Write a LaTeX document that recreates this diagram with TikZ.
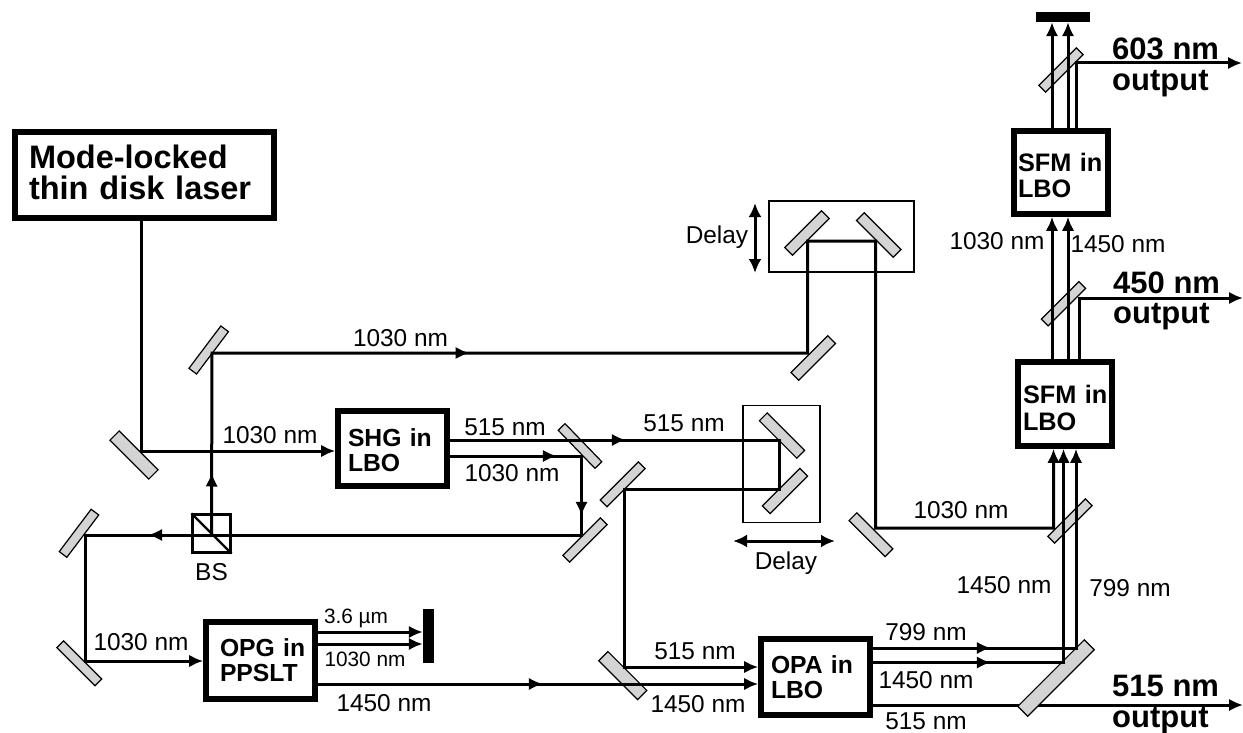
\documentclass[tikz,border=0pt]{standalone}
\usepackage{fontspec}
\setmainfont{Liberation Sans}
\usetikzlibrary{arrows.meta,decorations.markings}
\newcommand{\fsLabel}{\fontsize{24.4}{25}\selectfont}
\newcommand{\fsSmall}{\fontsize{20.8}{22}\selectfont}
\newcommand{\fsBox}{\fontsize{24.7}{25}\selectfont\bfseries}
\newcommand{\fsSfm}{\fontsize{25.3}{26.5}\selectfont\bfseries}
\newcommand{\fsBig}{\fontsize{31}{32}\selectfont\bfseries}
\newcommand{\pushdown}[1]{\rule{0pt}{#1}}
\tikzset{
  x=1pt,y=-1pt,
  mirr/.style n args={3}{draw=black,line width=1.2pt,fill=mirrgray,rectangle,inner sep=0pt,rotate=#1,minimum width=#2,minimum height=#3},
  cryst/.style={draw=black,fill=white,line width=5.6pt,rectangle,outer sep=auto,inner sep=0pt,font=\fsBox,align=left},
  frame/.style={draw=black,line width=1.8pt,rectangle,inner sep=0pt},
  dump/.style={fill=black,rectangle,inner sep=0pt},
  beam/.style={line width=3pt,line join=miter},
  tipped/.style={-{Latex[length=14pt,width=12.5pt]}},
  ar/.style={postaction={decorate,decoration={markings,mark=at position #1 with {\arrow{Latex[length=14pt,width=12.5pt]}}}}},
  lab/.style={font=\fsLabel,inner sep=0pt},
  sml/.style={font=\fsSmall,inner sep=0pt},
  big/.style={font=\fsBig,inner sep=0pt,anchor=base west},
}
\definecolor{mirrgray}{gray}{0.83}
\begin{document}
\begin{tikzpicture}
\useasboundingbox (0,0) rectangle (1243,733);
% crystals and laser
\node[cryst,minimum width=259pt,minimum height=86pt,text width=231pt,font=\fontsize{32.5}{31.5}\selectfont\bfseries] (laser) at (144.5,175) {Mode-locked\\thin disk laser\rule[-6pt]{0pt}{1pt}};
\node[cryst,minimum width=109pt,minimum height=75pt,text width=89pt] (shg) at (392.5,448.5) {\pushdown{22pt}SHG in\\LBO};
\node[cryst,minimum width=109pt,minimum height=77pt,text width=81pt] (opg) at (260.5,660.5) {OPG~in\\PPSLT};
\node[cryst,minimum width=109pt,minimum height=76pt,text width=89pt] (opa) at (815.5,677) {OPA in\\LBO};
\node[cryst,minimum width=94pt,minimum height=84pt,text width=84pt,font=\fsSfm] (sfmA) at (1065,404) {\pushdown{26pt}SFM~in\\LBO};
\node[cryst,minimum width=94pt,minimum height=83pt,text width=86pt,font=\fsSfm] (sfmB) at (1061,172.5) {\pushdown{24pt}SFM~in\\LBO};
% delay frames
\node[frame,minimum width=145pt,minimum height=71pt] (delayU) at (841.5,236.5) {};
\node[frame,minimum width=77pt,minimum height=117pt] (delayL) at (781.5,464) {};
% beam splitter
\node[draw=black,line width=2.2pt,rectangle,inner sep=0pt,minimum size=38pt] (bs) at (211.5,533.5) {};
\draw[line width=2.2pt] (bs.north west) -- (bs.south east);
% dumps
\node[dump,minimum width=54pt,minimum height=10pt] (dumpT) at (1063,17) {};
\node[dump,minimum width=11pt,minimum height=54pt] (dumpO) at (428.5,636) {};
% beam junction coordinates
\coordinate (jLaser) at (141,451);
\coordinate (jBSup) at (212,353);
\coordinate (jA) at (807.5,353);
\coordinate (jB) at (807.5,241);
\coordinate (jC) at (875.5,241);
\coordinate (jD) at (875.5,528);
\coordinate (jE) at (1053.5,528);
\coordinate (jSplitR) at (581.5,456);
\coordinate (jSplitD) at (581.5,535);
\coordinate (jLeftU) at (85,535);
\coordinate (jLeftD) at (85,661);
\coordinate (jDL1) at (779,440);
\coordinate (jDL2) at (779,489);
\coordinate (jDL3) at (624,489);
\coordinate (jDL4) at (624,667);
\coordinate (j1450) at (1063.5,662.5);
\coordinate (j799) at (1076,648);
\coordinate (jOut515) at (1243,705);
\coordinate (jOut450a) at (1079,298);
\coordinate (jOut450b) at (1243,298);
\coordinate (jOut603a) at (1076,63);
\coordinate (jOut603b) at (1242,63);
% 515 output passes behind its mirror
\draw[beam,tipped] (opa.east |- jOut515) -- (jOut515);
% mirrors
\node[mirr={-45}{55pt}{13pt}] (m1) at (134,455) {};
\node[mirr={53}{53pt}{9.5pt}] (m2) at (208.7,350) {};
\node[mirr={45}{52pt}{11pt}] (m3) at (813.3,358) {};
\node[mirr={-45}{51pt}{11pt}] (m4) at (871,534.7) {};
\node[mirr={45}{52pt}{11pt}] (m5) at (807,233) {};
\node[mirr={-45}{52pt}{11pt}] (m6) at (878.7,235) {};
\node[mirr={45}{53pt}{9.5pt}] (m7) at (1070,521) {};
\node[mirr={45}{53pt}{9.5pt}] (m8) at (1063.5,303.7) {};
\node[mirr={45}{53pt}{9.5pt}] (m9) at (1061,70) {};
\node[mirr={45}{94pt}{14pt}] (m10) at (1056,678) {};
\node[mirr={-45}{53pt}{11pt}] (m11) at (782,435.6) {};
\node[mirr={45}{53pt}{11pt}] (m12) at (785,491) {};
\node[mirr={-46}{53pt}{9.5pt}] (m13) at (580,446) {};
\node[mirr={45}{54pt}{9.5pt}] (m14) at (622.7,484.3) {};
\node[mirr={45}{53pt}{9.5pt}] (m15) at (585,540) {};
\node[mirr={53}{53pt}{9.5pt}] (m16) at (79,533.3) {};
\node[mirr={-45}{54pt}{9.5pt}] (m17) at (79.3,663.3) {};
\node[mirr={-45}{55pt}{13pt}] (m18) at (622.8,675.6) {};
% beams
\draw[beam,tipped] (laser.south -| jLaser) -- (jLaser) -- (shg.west |- jLaser);
\draw[beam,tipped,ar=61pt,ar=438pt] (bs.center) -- (jBSup) -- (jA) -- (jB) -- (jC) -- (jD) -- (jE) -- (sfmA.south -| jE);
\draw[beam,tipped,ar=107pt,ar=191.5pt,ar=644pt] (shg.east |- jSplitR) -- (jSplitR) -- (jSplitD) -- (jLeftU) -- (jLeftD) -- (opg.west |- jLeftD);
\draw[beam,tipped,ar=176pt] (shg.east |- jDL1) -- (jDL1) -- (jDL2) -- (jDL3) -- (jDL4) -- (opa.west |- jDL4);
\path (0,632) coordinate (y632) (0,644) coordinate (y644) (0,684) coordinate (y684);
\draw[beam,tipped] (opg.east |- y632) -- (dumpO.west |- y632);
\draw[beam,tipped] (opg.east |- y644) -- (dumpO.west |- y644);
\draw[beam,tipped,ar=225pt] (opg.east |- y684) -- (opa.west |- y684);
\draw[beam,tipped,ar=118pt] (opa.east |- j1450) -- (j1450) -- (sfmA.south -| j1450);
\draw[beam,tipped,ar=118pt] (opa.east |- j799) -- (j799) -- (sfmA.south -| j799);
\path (1052,0) coordinate (x1052) (1068,0) coordinate (x1068);
\draw[beam,tipped] (sfmA.north -| x1052) -- (sfmB.south -| x1052);
\draw[beam,tipped] (sfmA.north -| x1068) -- (sfmB.south -| x1068);
\draw[beam,tipped] (sfmA.north -| jOut450a) -- (jOut450a) -- (jOut450b);
\draw[beam,tipped] (sfmB.north -| x1052) -- (dumpT.south -| x1052);
\draw[beam,tipped] (sfmB.north -| x1068) -- (dumpT.south -| x1068);
\draw[beam,tipped] (sfmB.north -| jOut603a) -- (jOut603a) -- (jOut603b);
% delay arrows
\coordinate (dU1) at (755,203); \coordinate (dU2) at (755,273);
\coordinate (dL1) at (733,541); \coordinate (dL2) at (835,541);
\draw[beam,{Latex[length=14pt,width=13pt]}-{Latex[length=14pt,width=13pt]}] (dU1) -- (dU2);
\draw[beam,{Latex[length=14pt,width=13pt]}-{Latex[length=14pt,width=13pt]}] (dL1) -- (dL2);
% labels
\node[lab] (t1) at (270,435) {1030 nm};
\node[lab] (t2) at (400.5,338) {1030 nm};
\node[lab] (t3) at (505,427) {515 nm};
\node[lab] (t4) at (512,473) {1030 nm};
\node[lab] (t5) at (684,423) {515 nm};
\node[lab] (t6) at (717,237) {Delay};
\node[lab] (t7) at (786,563) {Delay};
\node[lab] (t8) at (211.5,572) {BS};
\node[lab] (t9) at (141,642) {1030 nm};
\node[sml] (t10) at (356,618) {3.6 µm};
\node[sml] (t11) at (365,659) {1030 nm};
\node[lab] (t12) at (384,703) {1450 nm};
\node[lab] (t13) at (695,651) {515 nm};
\node[lab] (t14) at (698,704) {1450 nm};
\node[lab] (t15) at (926,632) {799 nm};
\node[lab] (t16) at (926,680) {1450 nm};
\node[lab] (t17) at (926,721) {515 nm};
\node[lab] (t18) at (1004,585) {1450 nm};
\node[lab] (t19) at (1130,588) {799 nm};
\node[lab] (t20) at (961,510) {1030 nm};
\node[lab] (t21) at (997,241) {1030 nm};
\node[lab] (t22) at (1118,244) {1450 nm};
\node[big] (o1) at (1112,59.5) {603 nm};
\node[big] (o2) at (1112,91) {output};
\node[big] (o3) at (1113,293) {450 nm};
\node[big] (o4) at (1113,323) {output};
\node[big] (o5) at (1112,696) {515 nm};
\node[big] (o6) at (1112,727) {output};
\end{tikzpicture}
\end{document}
